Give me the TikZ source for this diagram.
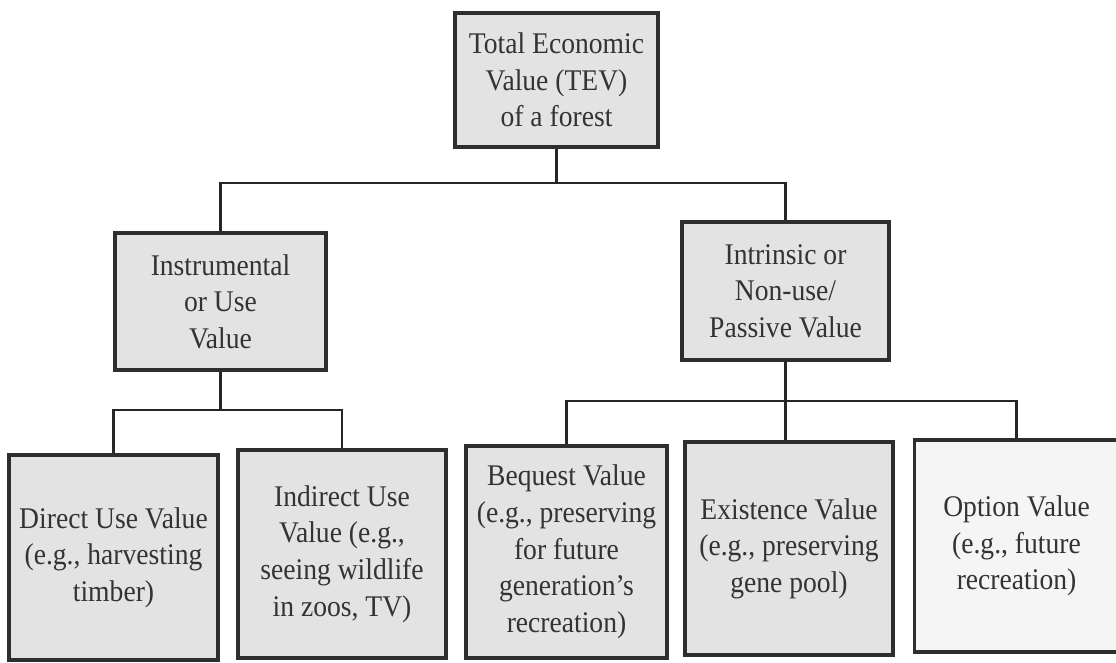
\documentclass[tikz,border=0pt]{standalone}
\usepackage{fontspec}
\setmainfont{Liberation Serif}[FakeStretch=0.92]
\begin{document}
\begin{tikzpicture}[x=0.75pt,y=-0.75pt,
  box/.style={draw=black!82, line width=2.4pt, fill=gray!22, align=center,
    inner sep=0pt, text=black!80, font=\fontsize{22.5}{27.5}\selectfont},
  lightbox/.style={box, fill=gray!8},
  link/.style={draw=black!85, line width=2.2pt}]
\useasboundingbox (0,0) rectangle (1116,663);
\fill[white] (0,0) rectangle (1116,663);

% top level
\node[box, minimum width=152.25pt, minimum height=100.5pt] (tev) at (556.5,80)
  {Total Economic\\Value (TEV)\\of a forest};

% second level
\node[box, minimum width=158.25pt, minimum height=102.75pt] (instr) at (220.5,301.5)
  {Instrumental\\or Use\\Value};
\node[box, minimum width=155.25pt, minimum height=103.5pt] (intr) at (785.5,291)
  {Intrinsic or\\Non-use/\\Passive Value};

% third level
\node[box, minimum width=156.75pt, minimum height=153.75pt] (direct) at (113.5,557.5)
  {Direct Use Value\\(e.g., harvesting\\timber)};
\node[box, minimum width=156pt, minimum height=156pt] (indirect) at (342,554)
  {Indirect Use\\Value (e.g.,\\seeing wildlife\\in zoos, TV)};
\node[box, minimum width=150.75pt, minimum height=159pt] (bequest) at (566.5,552)
  {Bequest Value\\(e.g., preserving\\for future\\generation’s\\recreation)};
\node[box, minimum width=156pt, minimum height=159.75pt] (exist) at (789,548.5)
  {Existence Value\\(e.g., preserving\\gene pool)};
\node[lightbox, minimum width=153pt, minimum height=159pt] (option) at (1016.5,546)
  {Option Value\\(e.g., future\\recreation)};

% junction levels
\coordinate (j1) at (556.5,183);
\coordinate (j2) at (220.5,410);
\coordinate (j3) at (785.5,401);

% connectors
\draw[link] (tev.south) -- (j1);
\draw[link] (instr.north) |- (j1) -| (intr.north);
\draw[link] (instr.south) -- (j2);
\draw[link] (direct.north) |- (j2) -| (indirect.north);
\draw[link] (intr.south) -- (intr.south |- exist.north);
\draw[link] (bequest.north) |- (j3) -| (option.north);
\end{tikzpicture}
\end{document}
